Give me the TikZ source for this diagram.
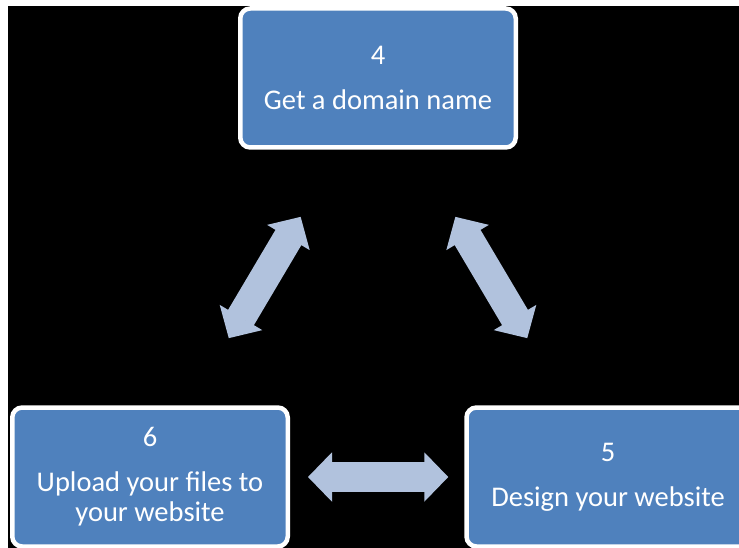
\documentclass[tikz,border=0pt]{standalone}
\usepackage{fontspec}
\setmainfont{Carlito}
\usetikzlibrary{arrows.meta,calc}
\definecolor{stepblue}{RGB}{79,129,189}
\definecolor{linkblue}{RGB}{177,194,221}
\begin{document}
\begin{tikzpicture}[
    x=1pt, y=-1pt,
    stage/.style={draw=white, line width=4.5pt, fill=stepblue, rounded corners=10pt,
      minimum width=275.5pt, minimum height=139pt, inner sep=0pt, align=center,
      text=white, font=\fontsize{28.5}{30}\selectfont},
    link/.style={draw=linkblue, line width=30pt,
      {Triangle[length=24pt,width=49pt,line width=2.5pt]}-{Triangle[length=24pt,width=49pt,line width=2.5pt]}}
  ]
  \useasboundingbox (0,0) rectangle (739,548);
  \fill[white] (0,0) rectangle (739,548);
  \fill[black] (8,6) rectangle (739,548);
  \node[stage] (n4) at (378,78) {4\\[15pt]Get a domain name};
  \node[stage] (n6) at (150,477) {6\\[15pt]Upload your files to\\your website};
  \node[stage, minimum width=283pt] (n5) at (608,477) {5\\[15pt]Design your website};
  \draw[link, shorten <=78pt, shorten >=78pt] ($(n6.north)+(39,0)$) -- ($(n4.south)+(-37.6,0)$);
  \draw[link, shorten <=78pt, shorten >=78pt] ($(n4.south)+(37.6,0)$) -- ($(n5.north)+(-41,0)$);
  \draw[link, shorten <=18pt, shorten >=16pt] (n6.east) -- (n5.west);
\end{tikzpicture}
\end{document}
